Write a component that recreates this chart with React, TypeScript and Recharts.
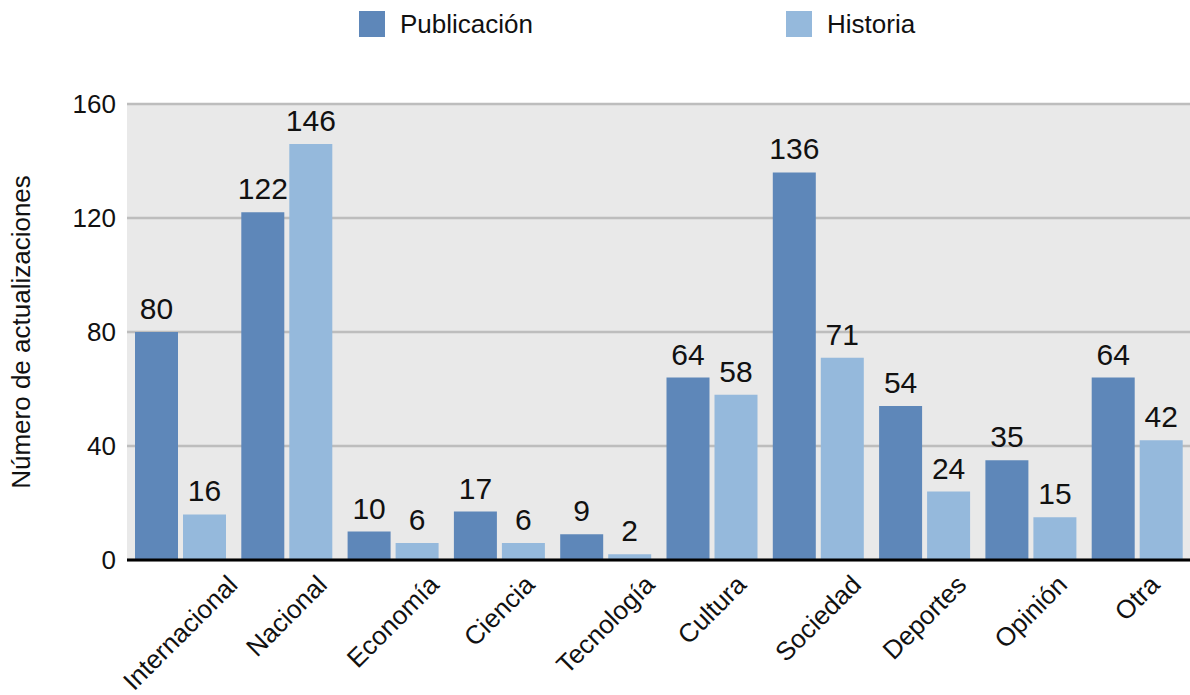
import React from 'react';
import { BarChart, Bar, XAxis, YAxis, CartesianGrid, LabelList } from 'recharts';

const categories = ['Internacional', 'Nacional', 'Economía', 'Ciencia', 'Tecnología', 'Cultura', 'Sociedad', 'Deportes', 'Opinión', 'Otra'];
const publicacion = [80, 122, 10, 17, 9, 64, 136, 54, 35, 64];
const historia = [16, 146, 6, 6, 2, 58, 71, 24, 15, 42];
const yTicks = [0, 40, 80, 120, 160];

const data = categories.map((name, i) => ({ name, publicacion: publicacion[i], historia: historia[i] }));

const FONT = '"Liberation Sans", Arial, Helvetica, sans-serif';
const DARK = '#5e87b9';
const LIGHT = '#95b9dc';
const TEXT = '#111';

let ctx: CanvasRenderingContext2D | null = null;
function measure(text: string, size: number) {
 if (!ctx) ctx = document.createElement('canvas').getContext('2d');
 if (!ctx) return text.length * size * 0.5;
 ctx.font = `${size}px ${FONT}`;
 return ctx.measureText(text).width;
}

// rotated category labels: centred on the category, tops aligned
const CategoryTick = (props: any) => {
 const { x, payload } = props;
 const size = 26;
 const w = measure(payload.value, size);
 const half = 0.7071 * (w / 2 + 7);
 const cy = 575 + half;
 return (
  <text
   x={x}
   y={cy}
   textAnchor="middle"
   dy="0.35em"
   fontSize={size}
   fontFamily={FONT}
   fill={TEXT}
   transform={`rotate(-45 ${x} ${cy})`}
  >
   {payload.value}
  </text>
 );
};

const ValueTick = (props: any) => {
 const { y, payload } = props;
 return (
  <text x={116} y={y} dy="0.36em" textAnchor="end" fontSize={26} fontFamily={FONT} fill={TEXT}>
   {payload.value}
  </text>
 );
};

const YTitle = () => (
 <text
  x={21}
  y={332}
  textAnchor="middle"
  dominantBaseline="central"
  fontSize={26}
  fontFamily={FONT}
  fill={TEXT}
  transform="rotate(-90 21 332)"
 >
  Número de actualizaciones
 </text>
);

const legendItems = [
 { label: 'Publicación', color: DARK, left: 359 },
 { label: 'Historia', color: LIGHT, left: 786 },
];

export default function App() {
 return (
  <div style={{ position: 'absolute', left: 0, top: 0, width: 1190, height: 695, background: '#fff', fontFamily: FONT }}>
   {legendItems.map((it) => (
    <div key={it.label} style={{ position: 'absolute', left: it.left, top: 11, display: 'flex', alignItems: 'center' }}>
     <span style={{ display: 'inline-block', width: 26, height: 26, background: it.color }} />
     <span style={{ marginLeft: 15, fontSize: 26, color: TEXT, lineHeight: '26px' }}>{it.label}</span>
    </div>
   ))}
   <div style={{ position: 'absolute', left: 0, top: 0 }}>
    <BarChart
     width={1190}
     height={695}
     data={data}
     margin={{ top: 104, right: 0, bottom: 105, left: 0 }}
     barCategoryGap={8}
     barGap={5}
    >
     <CartesianGrid vertical={false} stroke="#bdbdbd" strokeWidth={2.5} fill="#e9e9e9" />
     <XAxis
      dataKey="name"
      height={30}
      tickLine={false}
      axisLine={{ stroke: '#000', strokeWidth: 3 }}
      tick={<CategoryTick />}
      interval={0}
     />
     <YAxis
      width={127}
      domain={[0, 160]}
      ticks={yTicks}
      axisLine={false}
      tickLine={false}
      tick={<ValueTick />}
      label={{ content: <YTitle /> }}
     />
     <Bar dataKey="publicacion" fill={DARK} isAnimationActive={false}>
      <LabelList dataKey="publicacion" position="top" offset={13} fontSize={30} fontFamily={FONT} fill={TEXT} />
     </Bar>
     <Bar dataKey="historia" fill={LIGHT} isAnimationActive={false}>
      <LabelList dataKey="historia" position="top" offset={13} fontSize={30} fontFamily={FONT} fill={TEXT} />
     </Bar>
    </BarChart>
   </div>
  </div>
 );
}
